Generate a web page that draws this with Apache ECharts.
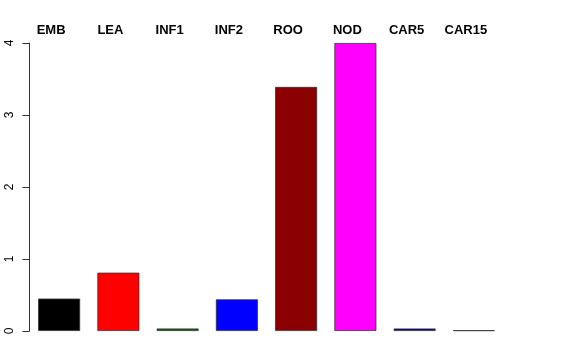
<!DOCTYPE html>
<html>
<head>
<meta charset="utf-8">
<script src="https://cdn.jsdelivr.net/npm/echarts@6/dist/echarts.min.js"></script>
<style>
html,body{margin:0;padding:0;background:#fff;}
#chart{width:576px;height:360px;}
</style>
</head>
<body>
<div id="chart"></div>
<script>
var categories = ['EMB','LEA','INF1','INF2','ROO','NOD','CAR5','CAR15'];
var values = [0.45, 0.81, 0.035, 0.44, 3.39, 4.0, 0.035, 0.01];
var colors = ['#000000','#FF0000','#006400','#0000FF','#8B0000','#FF00FF','#000080','#BEBEBE'];
var yTicks = [0, 1, 2, 3, 4];

var chart = echarts.init(document.getElementById('chart'), null, {renderer:'canvas'});
var font = 'Liberation Sans, Arial, Helvetica, sans-serif';
chart.setOption({
  animation: false,
  backgroundColor: '#ffffff',
  grid: {left: 29.5, top: 43, width: 474, bottom: 29, containLabel: false},
  xAxis: [{
    type: 'category', data: categories, position: 'bottom',
    axisLine: {show: false}, axisTick: {show: false}, axisLabel: {show: false}
  }, {
    type: 'category', data: categories, position: 'top',
    axisLine: {show: false}, axisTick: {show: false},
    axisLabel: {show: true, fontFamily: font, fontSize: 13, fontWeight: 'bold', color: '#000',
      margin: 6, padding: [0, 16, 0, 0], interval: 0}
  }],
  yAxis: {
    type: 'value', min: yTicks[0], max: yTicks[yTicks.length-1], interval: 1,
    axisLine: {show: true, lineStyle: {color: '#333', width: 1}},
    axisTick: {show: true, length: 7, lineStyle: {color: '#333', width: 1}},
    splitLine: {show: false},
    axisLabel: {rotate: 90, fontFamily: font, fontSize: 12, color: '#000', margin: 14}
  },
  series: [{
    type: 'bar', xAxisIndex: 0, barWidth: 42,
    data: values.map(function(v, i){
      return {value: v, itemStyle: {color: colors[i], borderColor: '#333', borderWidth: 0.8}};
    })
  }]
});
</script>
</body>
</html>
